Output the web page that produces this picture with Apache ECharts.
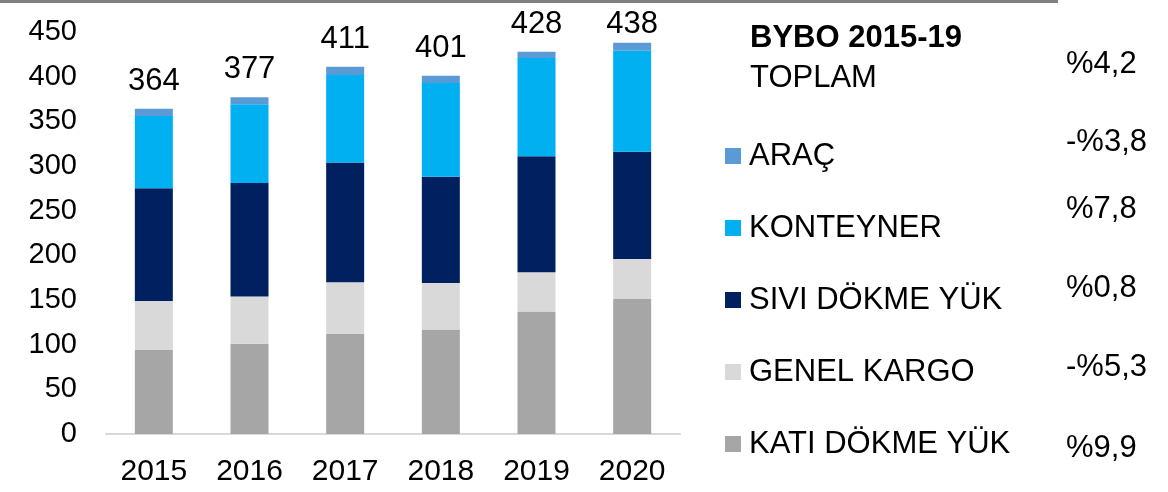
<!DOCTYPE html>
<html>
<head>
<meta charset="utf-8">
<script src="https://cdn.jsdelivr.net/npm/echarts@6/dist/echarts.min.js"></script>
<style>
  html, body { margin: 0; padding: 0; background: #fff; }
  #main { width: 1168px; height: 492px; }
</style>
</head>
<body>
<div id="main"></div>
<script>
// yillar
const years = ['2015', '2016', '2017', '2018', '2019', '2020'];
// seriler (milyon ton)
const kati = [94, 101, 112, 117, 137, 151];
const genel = [55, 53, 58, 52, 44, 45];
const sivi = [126, 127, 134, 119, 130, 120];
const konteyner = [81, 88, 98, 105, 110, 113];
const arac = [8, 8, 9, 8, 7, 9];
const totals = [364, 377, 411, 401, 428, 438];
// BYBO 2015-19
const byboTitle = 'BYBO 2015-19';
const byboTotalLabel = 'TOPLAM';
const byboValues = ['%4,2', '-%3,8', '%7,8', '%0,8', '-%5,3', '%9,9'];

const font = 'Liberation Sans, Arial, sans-serif';

var chartDom = document.getElementById('main');
var myChart = echarts.init(chartDom);
var option;

function bar(name, color, data) {
    return {
        name: name,
        type: 'bar',
        stack: 'total',
        barWidth: 38,
        itemStyle: { color: color },
        data: data
    };
}

var aracSeries = bar('ARAÇ', '#5B9BD5', arac.map(function (v, i) {
    // son etiket ustte kirpilmasin
    return i === arac.length - 1 ? { value: v, label: { distance: 3 } } : v;
}));
aracSeries.label = {
    show: true,
    position: 'top',
    distance: 12,
    fontFamily: font,
    fontSize: 31,
    color: '#000',
    formatter: function (p) { return totals[p.dataIndex]; }
};

// sag taraftaki yuzdeler
const pctY = [64, 142, 209, 288, 367, 448];
var graphics = [
    { type: 'rect', shape: { x: 0, y: 0, width: 1058, height: 3 }, style: { fill: '#808080' } },
    { type: 'text', x: 750, y: 38, style: { text: byboTitle, fontFamily: font, fontSize: 31, fontWeight: 'bold', fill: '#000', verticalAlign: 'middle' } },
    { type: 'text', x: 750, y: 78, style: { text: byboTotalLabel, fontFamily: font, fontSize: 31, fill: '#000', verticalAlign: 'middle' } }
];
byboValues.forEach(function (t, i) {
    graphics.push({
        type: 'text', x: 1066, y: pctY[i],
        style: { text: t, fontFamily: font, fontSize: 31, fill: '#000', verticalAlign: 'middle' }
    });
});

option = {
    animation: false,
    backgroundColor: '#fff',
    grid: {
        left: 106,
        right: 488,
        top: 32,
        bottom: 58
    },
    legend: {
        orient: 'vertical',
        left: 720,
        top: 135,
        itemWidth: 16,
        itemHeight: 16,
        itemGap: 40,
        icon: 'rect',
        data: ['ARAÇ', 'KONTEYNER', 'SIVI DÖKME YÜK', 'GENEL KARGO', 'KATI DÖKME YÜK'],
        textStyle: {
            fontFamily: font,
            fontSize: 31,
            lineHeight: 32,
            color: '#000',
            padding: [0, 0, 0, 3]
        }
    },
    xAxis: {
        type: 'category',
        data: years,
        axisTick: { show: false },
        axisLine: { lineStyle: { color: '#d9d9d9', width: 2 } },
        axisLabel: { fontFamily: font, fontSize: 30, color: '#000', margin: 23 }
    },
    yAxis: {
        type: 'value',
        min: 0,
        max: 450,
        interval: 50,
        splitLine: { show: false },
        axisLine: { show: false },
        axisTick: { show: false },
        axisLabel: { fontFamily: font, fontSize: 29, color: '#000', margin: 29 }
    },
    graphic: graphics,
    series: [
        bar('KATI DÖKME YÜK', '#A6A6A6', kati),
        bar('GENEL KARGO', '#D9D9D9', genel),
        bar('SIVI DÖKME YÜK', '#002060', sivi),
        bar('KONTEYNER', '#00B0F0', konteyner),
        aracSeries
    ]
};

option && myChart.setOption(option);
</script>
</body>
</html>
